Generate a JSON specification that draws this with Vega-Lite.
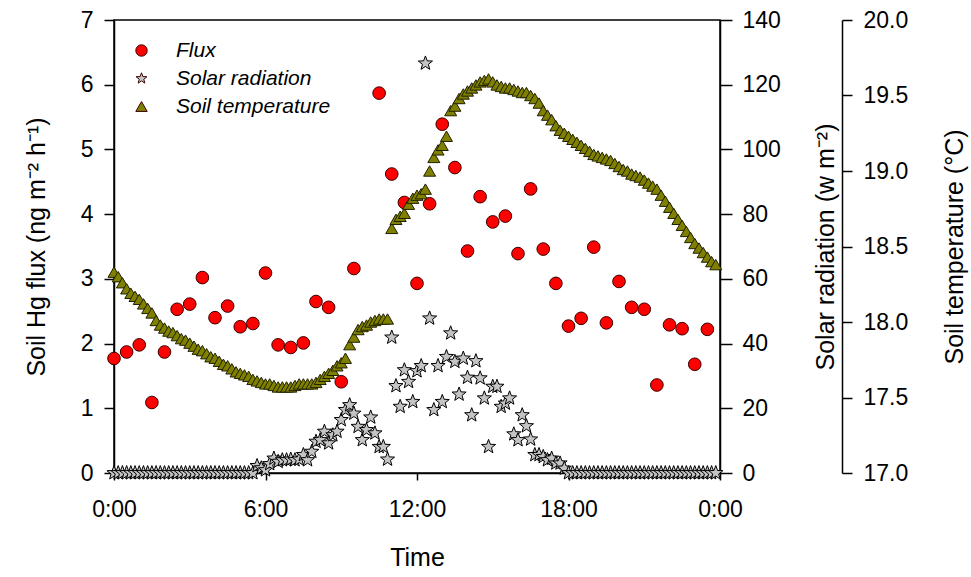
{
  "$schema": "https://vega.github.io/schema/vega-lite/v6.json",
  "width": 606,
  "height": 453,
  "autosize": {"type": "none"},
  "padding": {"left": 114, "top": 20, "right": 251, "bottom": 104},
  "background": "white",
  "config": {
    "font": "Liberation Sans",
    "view": {"stroke": "black", "strokeWidth": 1.5},
    "axis": {
      "domainColor": "black", "domainWidth": 1.5, "tickColor": "black", "tickWidth": 1.5,
      "labelColor": "black", "titleColor": "black", "labelFont": "Liberation Sans", "titleFont": "Liberation Sans",
      "labelFontSize": 23, "titleFontSize": 25, "titleFontWeight": "normal", "grid": false
    }
  },
  "datasets": {
    "flux": [
      {"minute":0,"flux":1.77},{"minute":30,"flux":1.87},{"minute":60,"flux":1.98},{"minute":90,"flux":1.09},{"minute":120,"flux":1.87},{"minute":150,"flux":2.53},{"minute":180,"flux":2.61},{"minute":210,"flux":3.02},{"minute":240,"flux":2.40},{"minute":270,"flux":2.58},{"minute":300,"flux":2.26},{"minute":330,"flux":2.31},{"minute":360,"flux":3.09},{"minute":390,"flux":1.98},{"minute":420,"flux":1.94},{"minute":450,"flux":2.01},{"minute":480,"flux":2.65},{"minute":510,"flux":2.56},{"minute":540,"flux":1.41},{"minute":570,"flux":3.16},{"minute":630,"flux":5.87},{"minute":660,"flux":4.62},{"minute":690,"flux":4.18},{"minute":720,"flux":2.93},{"minute":750,"flux":4.16},{"minute":780,"flux":5.39},{"minute":810,"flux":4.72},{"minute":840,"flux":3.43},{"minute":870,"flux":4.27},{"minute":900,"flux":3.88},{"minute":930,"flux":3.97},{"minute":960,"flux":3.39},{"minute":990,"flux":4.39},{"minute":1020,"flux":3.46},{"minute":1050,"flux":2.93},{"minute":1080,"flux":2.27},{"minute":1110,"flux":2.39},{"minute":1140,"flux":3.49},{"minute":1170,"flux":2.32},{"minute":1200,"flux":2.96},{"minute":1230,"flux":2.56},{"minute":1260,"flux":2.53},{"minute":1290,"flux":1.36},{"minute":1320,"flux":2.29},{"minute":1350,"flux":2.23},{"minute":1380,"flux":1.68},{"minute":1410,"flux":2.22}
    ],
    "meteo": [
      {"minute":0,"radiation":0,"temperature":18.33},{"minute":10,"radiation":0,"temperature":18.30},{"minute":20,"radiation":0,"temperature":18.26},{"minute":30,"radiation":0,"temperature":18.22},{"minute":40,"radiation":0,"temperature":18.19},{"minute":50,"radiation":0,"temperature":18.17},
      {"minute":60,"radiation":0,"temperature":18.15},{"minute":70,"radiation":0,"temperature":18.12},{"minute":80,"radiation":0,"temperature":18.09},{"minute":90,"radiation":0,"temperature":18.06},{"minute":100,"radiation":0,"temperature":18.01},{"minute":110,"radiation":0,"temperature":17.98},
      {"minute":120,"radiation":0,"temperature":17.96},{"minute":130,"radiation":0,"temperature":17.94},{"minute":140,"radiation":0,"temperature":17.93},{"minute":150,"radiation":0,"temperature":17.91},{"minute":160,"radiation":0,"temperature":17.89},{"minute":170,"radiation":0,"temperature":17.88},
      {"minute":180,"radiation":0,"temperature":17.86},{"minute":190,"radiation":0,"temperature":17.84},{"minute":200,"radiation":0,"temperature":17.82},{"minute":210,"radiation":0,"temperature":17.81},{"minute":220,"radiation":0,"temperature":17.79},{"minute":230,"radiation":0,"temperature":17.77},
      {"minute":240,"radiation":0,"temperature":17.76},{"minute":250,"radiation":0,"temperature":17.74},{"minute":260,"radiation":0,"temperature":17.72},{"minute":270,"radiation":0,"temperature":17.71},{"minute":280,"radiation":0,"temperature":17.69},{"minute":290,"radiation":0,"temperature":17.67},
      {"minute":300,"radiation":0,"temperature":17.66},{"minute":310,"radiation":0,"temperature":17.65},{"minute":320,"radiation":0,"temperature":17.64},{"minute":330,"radiation":0,"temperature":17.62},{"minute":340,"radiation":2.2,"temperature":17.61},{"minute":350,"radiation":1.5,"temperature":17.60},
      {"minute":360,"radiation":0.9,"temperature":17.59},{"minute":370,"radiation":2.8,"temperature":17.59},{"minute":380,"radiation":4.5,"temperature":17.58},{"minute":390,"radiation":3.5,"temperature":17.57},{"minute":400,"radiation":4.0,"temperature":17.57},{"minute":410,"radiation":4.0,"temperature":17.57},
      {"minute":420,"radiation":4.2,"temperature":17.57},{"minute":430,"radiation":4.0,"temperature":17.58},{"minute":440,"radiation":4.2,"temperature":17.59},{"minute":450,"radiation":5.6,"temperature":17.59},{"minute":460,"radiation":4.0,"temperature":17.59},{"minute":470,"radiation":6.6,"temperature":17.59},
      {"minute":480,"radiation":9.7,"temperature":17.60},{"minute":490,"radiation":10.2,"temperature":17.62},{"minute":500,"radiation":12.8,"temperature":17.64},{"minute":510,"radiation":9.2,"temperature":17.66},{"minute":520,"radiation":11.7,"temperature":17.68},{"minute":530,"radiation":12.8,"temperature":17.71},
      {"minute":540,"radiation":16.4,"temperature":17.73},{"minute":550,"radiation":19.5,"temperature":17.76},{"minute":560,"radiation":21.0,"temperature":17.85},{"minute":570,"radiation":18.4,"temperature":17.90},{"minute":580,"radiation":14.3,"temperature":17.95},{"minute":590,"radiation":10.2,"temperature":17.97},
      {"minute":600,"radiation":13.3,"temperature":17.98},{"minute":610,"radiation":17.2,"temperature":18.00},{"minute":620,"radiation":12.3,"temperature":18.01},{"minute":630,"radiation":8.1,"temperature":18.02},{"minute":640,"radiation":8.1,"temperature":18.02},{"minute":650,"radiation":4.2,"temperature":18.02},
      {"minute":660,"radiation":41.9,"temperature":18.62},{"minute":670,"radiation":26.9,"temperature":18.68},{"minute":680,"radiation":20.5,"temperature":18.70},{"minute":690,"radiation":31.8,"temperature":18.72},{"minute":700,"radiation":28.2,"temperature":18.78},{"minute":710,"radiation":22.0,"temperature":18.82},
      {"minute":720,"radiation":31.5,"temperature":18.84},{"minute":730,"radiation":33.1,"temperature":18.85},{"minute":740,"radiation":126.6,"temperature":18.88},{"minute":750,"radiation":47.8,"temperature":19.00},{"minute":760,"radiation":19.5,"temperature":19.09},{"minute":770,"radiation":33.1,"temperature":19.14},
      {"minute":780,"radiation":22.0,"temperature":19.17},{"minute":790,"radiation":35.9,"temperature":19.23},{"minute":800,"radiation":43.2,"temperature":19.40},{"minute":810,"radiation":34.4,"temperature":19.43},{"minute":820,"radiation":24.3,"temperature":19.48},{"minute":830,"radiation":35.4,"temperature":19.51},
      {"minute":840,"radiation":29.5,"temperature":19.53},{"minute":850,"radiation":17.9,"temperature":19.55},{"minute":860,"radiation":34.6,"temperature":19.57},{"minute":870,"radiation":29.3,"temperature":19.59},{"minute":880,"radiation":23.1,"temperature":19.60},{"minute":890,"radiation":8.1,"temperature":19.61},
      {"minute":900,"radiation":26.7,"temperature":19.59},{"minute":910,"radiation":26.7,"temperature":19.57},{"minute":920,"radiation":20.5,"temperature":19.56},{"minute":930,"radiation":21.5,"temperature":19.55},{"minute":940,"radiation":23.1,"temperature":19.55},{"minute":950,"radiation":12.0,"temperature":19.54},
      {"minute":960,"radiation":10.2,"temperature":19.53},{"minute":970,"radiation":17.9,"temperature":19.52},{"minute":980,"radiation":14.5,"temperature":19.52},{"minute":990,"radiation":10.4,"temperature":19.50},{"minute":1000,"radiation":5.6,"temperature":19.48},{"minute":1010,"radiation":5.6,"temperature":19.45},
      {"minute":1020,"radiation":5.0,"temperature":19.40},{"minute":1030,"radiation":4.0,"temperature":19.37},{"minute":1040,"radiation":4.5,"temperature":19.34},{"minute":1050,"radiation":3.0,"temperature":19.30},{"minute":1060,"radiation":3.0,"temperature":19.27},{"minute":1070,"radiation":1.4,"temperature":19.25},
      {"minute":1080,"radiation":0,"temperature":19.23},{"minute":1090,"radiation":0,"temperature":19.21},{"minute":1100,"radiation":0,"temperature":19.19},{"minute":1110,"radiation":0,"temperature":19.17},{"minute":1120,"radiation":0,"temperature":19.15},{"minute":1130,"radiation":0,"temperature":19.13},
      {"minute":1140,"radiation":0,"temperature":19.11},{"minute":1150,"radiation":0,"temperature":19.10},{"minute":1160,"radiation":0,"temperature":19.09},{"minute":1170,"radiation":0,"temperature":19.08},{"minute":1180,"radiation":0,"temperature":19.07},{"minute":1190,"radiation":0,"temperature":19.05},
      {"minute":1200,"radiation":0,"temperature":19.03},{"minute":1210,"radiation":0,"temperature":19.01},{"minute":1220,"radiation":0,"temperature":19.00},{"minute":1230,"radiation":0,"temperature":18.98},{"minute":1240,"radiation":0,"temperature":18.97},{"minute":1250,"radiation":0,"temperature":18.96},
      {"minute":1260,"radiation":0,"temperature":18.94},{"minute":1270,"radiation":0,"temperature":18.92},{"minute":1280,"radiation":0,"temperature":18.90},{"minute":1290,"radiation":0,"temperature":18.88},{"minute":1300,"radiation":0,"temperature":18.84},{"minute":1310,"radiation":0,"temperature":18.80},
      {"minute":1320,"radiation":0,"temperature":18.76},{"minute":1330,"radiation":0,"temperature":18.72},{"minute":1340,"radiation":0,"temperature":18.68},{"minute":1350,"radiation":0,"temperature":18.64},{"minute":1360,"radiation":0,"temperature":18.60},{"minute":1370,"radiation":0,"temperature":18.56},
      {"minute":1380,"radiation":0,"temperature":18.52},{"minute":1390,"radiation":0,"temperature":18.49},{"minute":1400,"radiation":0,"temperature":18.46},{"minute":1410,"radiation":0,"temperature":18.43},{"minute":1420,"radiation":0,"temperature":18.40},{"minute":1430,"radiation":0,"temperature":18.38}
    ]
  },
  "layer": [
    {
      "data": {"name": "flux"},
      "mark": {"type": "point", "filled": true, "opacity": 1, "size": 160, "stroke": "#3a0000", "strokeWidth": 1},
      "encoding": {
        "x": {"field": "minute", "type": "quantitative", "scale": {"domain": [0, 1440], "nice": false},
              "axis": {"title": "Time", "values": [0, 360, 720, 1080, 1440], "labelExpr": "floor(datum.value / 60) % 24 + ':00'",
                       "tickSize": 7, "labelPadding": 18, "titlePadding": 24, "labelFlush": false}},
        "y": {"field": "flux", "type": "quantitative", "scale": {"domain": [0, 7], "nice": false},
              "axis": {"orient": "left", "title": "Soil Hg flux (ng m⁻² h⁻¹)", "values": [0,1,2,3,4,5,6,7], "tickSize": 10, "labelPadding": 11, "titlePadding": 31}},
        "fill": {"datum": "Flux", "type": "nominal",
                 "scale": {"domain": ["Flux", "Solar radiation", "Soil temperature"], "range": ["#ff0000", "#c4c4c4", "#808000"]},
                 "legend": {"orient": "none", "legendX": 17, "legendY": 20, "title": null, "padding": 0,
                            "labelFontSize": 21, "labelFontStyle": "italic", "labelFont": "Liberation Sans", "labelColor": "black",
                            "symbolSize": 130, "symbolStrokeColor": "black", "symbolStrokeWidth": 1, "labelOffset": 24, "rowPadding": 6,
                            "symbolType": "circle"}},
        "shape": {"datum": "Flux", "type": "nominal",
                  "scale": {"domain": ["Flux", "Solar radiation", "Soil temperature"],
                            "range": ["circle", "M0,-1L0.247,-0.34L0.951,-0.309L0.399,0.13L0.588,0.809L0,0.42L-0.588,0.809L-0.399,0.13L-0.951,-0.309L-0.247,-0.34Z", "triangle-up"]}}
      }
    },
    {
      "data": {"name": "meteo"},
      "mark": {"type": "point", "filled": true, "opacity": 1, "size": 220, "stroke": "black", "strokeWidth": 1},
      "encoding": {
        "x": {"field": "minute", "type": "quantitative", "scale": {"domain": [0, 1440], "nice": false}},
        "y": {"field": "radiation", "type": "quantitative", "scale": {"domain": [0, 140], "nice": false},
              "axis": {"orient": "right", "title": "Solar radiation (w m⁻²)", "values": [0,20,40,60,80,100,120,140], "tickSize": 12, "labelPadding": 10,
                       "titlePadding": 33, "titleAngle": 270, "titleBaseline": "top"}},
        "fill": {"datum": "Solar radiation", "type": "nominal"},
        "shape": {"datum": "Solar radiation", "type": "nominal"}
      }
    },
    {
      "data": {"name": "meteo"},
      "mark": {"type": "point", "filled": true, "opacity": 1, "size": 144, "stroke": "#202000", "strokeWidth": 1},
      "encoding": {
        "x": {"field": "minute", "type": "quantitative", "scale": {"domain": [0, 1440], "nice": false}},
        "y": {"field": "temperature", "type": "quantitative", "scale": {"domain": [17, 20], "nice": false},
              "axis": {"orient": "right", "offset": 122, "title": "Soil temperature (°C)", "values": [17,17.5,18,18.5,19,19.5,20], "format": ".1f",
                       "tickSize": 10, "labelPadding": 11, "titlePadding": 35, "titleAngle": 270, "titleBaseline": "top"}},
        "fill": {"datum": "Soil temperature", "type": "nominal"},
        "shape": {"datum": "Soil temperature", "type": "nominal"}
      }
    }
  ],
  "resolve": {"scale": {"y": "independent"}}
}
